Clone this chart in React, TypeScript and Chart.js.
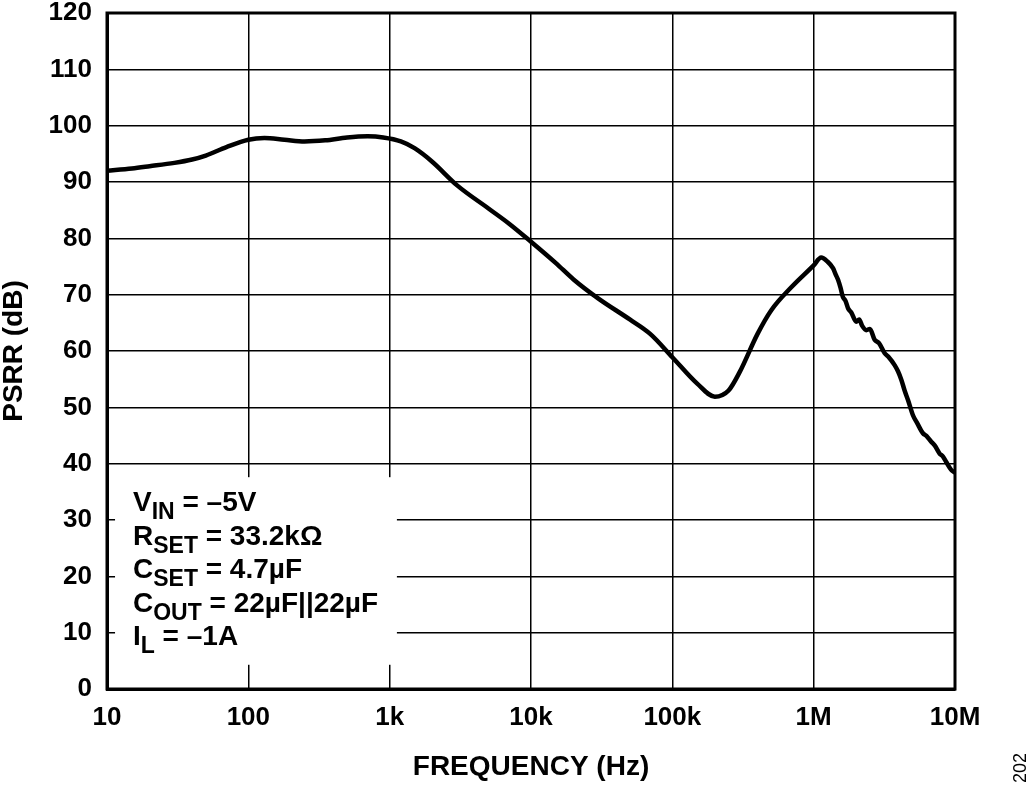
import { useEffect, useRef } from "react";
import { Chart, registerables } from "chart.js";

Chart.register(...registerables);

// frequency (Hz) and PSRR (dB)
const FREQ = [
  10, 15, 20, 30, 40, 50, 70, 100, 130, 180, 250, 350, 500, 700, 900,
  1200, 1500, 2000, 3000, 5000, 7000, 10000, 15000, 20000, 30000, 50000, 70000,
  100000, 150000, 200000, 250000, 300000, 400000, 500000, 700000, 1000000,
  1130000, 1250000, 1370000, 1430000, 1490000, 1550000, 1610000, 1680000, 1750000,
  1850000, 2000000, 2100000, 2200000, 2360000, 2500000, 2700000, 2900000, 3180000,
  3400000, 3740000, 3950000, 4170000, 4400000, 4650000, 5040000, 5400000, 5930000,
  6300000, 6790000, 7200000, 7780000, 8200000, 8670000, 9400000, 10000000,
];
const PSRR = [
  92.0, 92.4, 92.8, 93.4, 94.0, 94.7, 96.2, 97.5, 97.8, 97.5, 97.2, 97.4, 97.9, 98.1, 97.9,
  97.2, 96.0, 93.6, 89.4, 85.3, 82.6, 79.4, 75.6, 72.7, 69.3, 65.6, 63.0,
  58.9, 54.2, 51.9, 53.0, 56.3, 63.0, 67.2, 71.4, 75.2,
  76.6, 75.9, 74.7, 73.6, 72.6, 71.2, 69.6, 68.9, 67.6,
  66.8, 65.2, 65.6, 64.5, 63.7, 63.9, 62.0, 61.4, 59.6,
  58.9, 57.5, 56.4, 54.9, 53.0, 51.3, 48.6, 47.2, 45.4,
  44.9, 43.9, 43.2, 41.8, 41.3, 40.3, 38.9, 38.4,
];

const X_TICKS = [10, 100, 1e3, 1e4, 1e5, 1e6, 1e7];
const X_TICK_LABELS = ["10", "100", "1k", "10k", "100k", "1M", "10M"];
const Y_MIN = 0;
const Y_MAX = 120;
const Y_STEP = 10;

const NOTE_LINES: [string, string, string][] = [
  ["V", "IN", " = –5V"],
  ["R", "SET", " = 33.2kΩ"],
  ["C", "SET", " = 4.7µF"],
  ["C", "OUT", " = 22µF||22µF"],
  ["I", "L", " = –1A"],
];
// white box behind the conditions text, in data units
const NOTE_BOX = { fMin: 11.4, fMax: 1125, dbMin: 4.3, dbMax: 37.6 };
const FIG_ID = "202";

const FONT = "'Liberation Sans', Arial, sans-serif";

const notePlugin = {
  id: "note",
  beforeDatasetsDraw(chart: any) {
    const { ctx, chartArea, scales } = chart;
    const l = scales.x.getPixelForValue(NOTE_BOX.fMin);
    const r = scales.x.getPixelForValue(NOTE_BOX.fMax);
    const t = scales.y.getPixelForValue(NOTE_BOX.dbMax);
    const b = scales.y.getPixelForValue(NOTE_BOX.dbMin);
    ctx.save();
    ctx.fillStyle = "#fff";
    ctx.fillRect(l, t, r - l, b - t);
    ctx.fillStyle = "#000";
    ctx.textBaseline = "alphabetic";
    ctx.textAlign = "left";
    NOTE_LINES.forEach(([main, sub, rest], i) => {
      let x = chartArea.left + 26;
      const base = chartArea.top + 498 + i * 33.5;
      ctx.font = `bold 28px ${FONT}`;
      ctx.fillText(main, x, base);
      x += ctx.measureText(main).width;
      ctx.font = `bold 23px ${FONT}`;
      ctx.fillText(sub, x, base + 8);
      x += ctx.measureText(sub).width;
      ctx.font = `bold 28px ${FONT}`;
      ctx.fillText(rest, x, base);
    });
    ctx.restore();
  },
  afterDraw(chart: any) {
    const { ctx, chartArea } = chart;
    ctx.save();
    ctx.strokeStyle = "#000";
    ctx.lineWidth = 3;
    ctx.strokeRect(chartArea.left, chartArea.top, chartArea.right - chartArea.left, chartArea.bottom - chartArea.top);
    ctx.translate(1021, 768);
    ctx.rotate(-Math.PI / 2);
    ctx.font = `18px ${FONT}`;
    ctx.textAlign = "center";
    ctx.textBaseline = "middle";
    ctx.fillStyle = "#000";
    ctx.fillText(FIG_ID, 0, 0);
    ctx.restore();
  },
};

export default function App() {
  const canvasRef = useRef<HTMLCanvasElement>(null);
  const chartRef = useRef<Chart | null>(null);

  useEffect(() => {
    const el = canvasRef.current;
    if (!el) return;
    chartRef.current?.destroy();

    chartRef.current = new Chart(el, {
      type: "line",
      data: {
        datasets: [
          {
            label: "PSRR",
            data: FREQ.map((f, i) => ({ x: f, y: PSRR[i] })),
            borderColor: "#000",
            borderWidth: 4.5,
            pointRadius: 0,
            fill: false,
            cubicInterpolationMode: "monotone",
          },
        ],
      },
      options: {
        responsive: false,
        animation: false,
        layout: { padding: { top: 13, right: 75, bottom: 0, left: 0 } },
        plugins: {
          legend: { display: false },
          tooltip: { enabled: false },
        },
        scales: {
          x: {
            type: "logarithmic",
            min: 10,
            max: 1e7,
            afterBuildTicks: (s: any) => {
              s.ticks = X_TICKS.map((v) => ({ value: v }));
            },
            afterFit: (s: any) => {
              s.height = 98;
              s.paddingLeft = 0;
              s.paddingRight = 0;
            },
            grid: { color: "#000", lineWidth: 1.5, drawTicks: false },
            border: { color: "#000", width: 3 },
            ticks: {
              autoSkip: false,
              maxRotation: 0,
              padding: 13,
              color: "#000",
              font: { family: FONT, size: 26, weight: "bold" },
              callback: (v: any) => {
                const i = X_TICKS.indexOf(Number(v));
                return i >= 0 ? X_TICK_LABELS[i] : "";
              },
            },
            title: {
              display: true,
              text: "FREQUENCY (Hz)",
              color: "#000",
              font: { family: FONT, size: 28, weight: "bold", lineHeight: 1 },
              padding: { top: 0, bottom: 6 },
            },
          },
          y: {
            min: Y_MIN,
            max: Y_MAX,
            afterFit: (s: any) => {
              s.width = 107;
              s.paddingTop = 0;
              s.paddingBottom = 0;
            },
            grid: { color: "#000", lineWidth: 1.5, drawTicks: false },
            border: { color: "#000", width: 3 },
            ticks: {
              stepSize: Y_STEP,
              padding: 15,
              color: "#000",
              font: { family: FONT, size: 26, weight: "bold" },
            },
            title: {
              display: true,
              text: "PSRR (dB)",
              color: "#000",
              font: { family: FONT, size: 28, weight: "bold", lineHeight: 1 },
              padding: { top: 0, bottom: 0 },
            },
          },
        },
      },
      plugins: [notePlugin],
    } as any);

    return () => chartRef.current?.destroy();
  }, []);

  return (
    <div style={{ position: "absolute", left: 0, top: 0, width: 1030, height: 787, background: "#fff" }}>
      <canvas ref={canvasRef} width={1030} height={787} />
    </div>
  );
}
